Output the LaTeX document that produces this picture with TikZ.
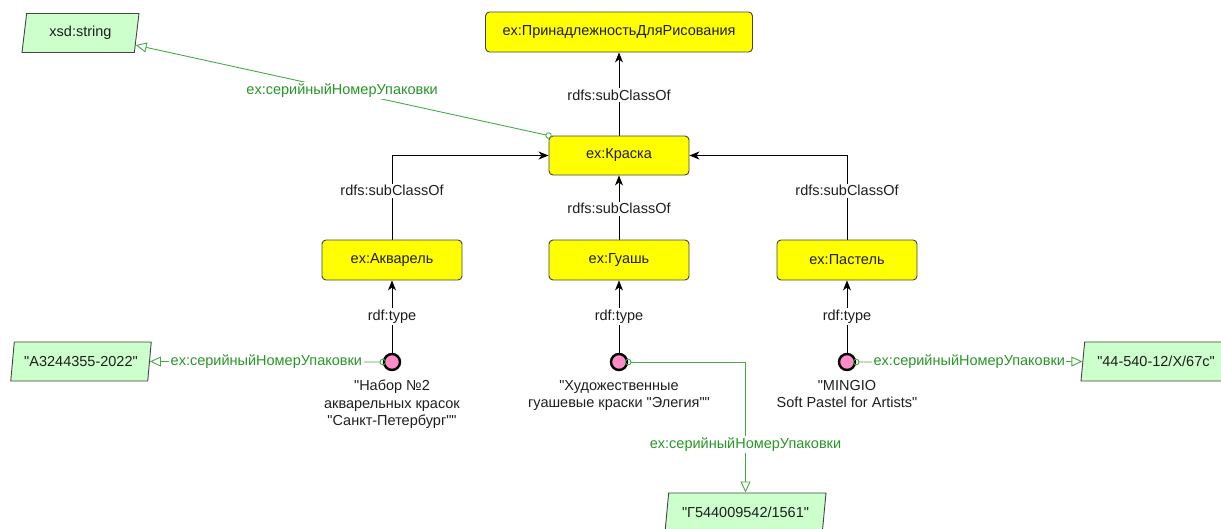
\documentclass[tikz,border=0pt]{standalone}
\usepackage{fontspec}
\setmainfont{Liberation Sans}[Ligatures=TeXOff]
\usetikzlibrary{arrows.meta,shapes.geometric}

\definecolor{classfill}{RGB}{255,255,0}
\definecolor{litfill}{RGB}{204,255,204}
\definecolor{instfill}{RGB}{255,140,200}
\definecolor{propgreen}{RGB}{40,150,40}
\definecolor{propline}{RGB}{70,170,70}
\definecolor{edgegray}{RGB}{68,68,68}
\definecolor{txt}{RGB}{30,30,30}

\begin{document}
\begin{tikzpicture}[x=1pt,y=-1pt,
  every node/.style={font=\fontsize{14.5}{17.5}\selectfont, text=txt},
  classbox/.style={draw=edgegray, line width=0.9pt, fill=classfill, rounded corners=4pt,
    minimum height=40pt, minimum width=140pt, inner sep=0pt},
  literal/.style={trapezium, trapezium left angle=71, trapezium right angle=109,
    trapezium stretches body, draw=edgegray, line width=0.9pt, fill=litfill,
    minimum height=39pt, inner xsep=2pt, inner ysep=0pt},
  inst/.style={circle, draw=black, line width=2.4pt, fill=instfill, minimum size=16pt, inner sep=0pt},
  isa/.style={draw=black, line width=0.9pt, -{Stealth[length=10pt,width=8pt,inset=3pt]}},
  lbl/.style={fill=white, inner sep=1.5pt},
  prop/.style={draw=propline, line width=0.9pt,
    {Circle[open,length=6.5pt,width=6.5pt]}-{Triangle[open,length=11pt,width=10pt]},
    shorten <=-3.25pt},
  plbl/.style={fill=white, inner sep=1.5pt, text=propgreen},
  caption/.style={align=center, inner sep=0pt, anchor=north}
]
\clip (0,0) rectangle (1221,528);

% classes
\node[classbox, minimum width=267pt] (drawing) at (619,32) {ex:ПринадлежностьДляРисования};
\node[classbox, minimum height=39pt] (paint) at (619,155.5) {ex:Краска};
\node[classbox] (watercolor) at (392,260) {ex:Акварель};
\node[classbox] (gouache) at (619,260) {ex:Гуашь};
\node[classbox] (pastel) at (847,260) {ex:Пастель};

% literals
\node[literal, minimum width=117pt] (xsd) at (80.5,33) {xsd:string};
\node[literal, minimum width=140.5pt] (lit1) at (81,361.5) {"A3244355-2022"};
\node[literal, minimum width=161pt] (lit2) at (745.5,512.5) {"Г544009542/1561"};
\node[literal, minimum width=150pt] (lit3) at (1156,361.5) {"44-540-12/X/67c"};

% individuals
\node[inst] (set) at (392,362) {};
\node[inst] (gpaint) at (619,362) {};
\node[inst] (mingio) at (847,362) {};

\node[caption] (setcap) at (392,380) {"Набор №2\\акварельных красок\\"Санкт-Петербург""};
\node[caption] (gpaintcap) at (619,380) {"Художественные\\гуашевые краски "Элегия""};
\node[caption] (mingiocap) at (847,380) {"MINGIO\\Soft Pastel for Artists"};

% subclass hierarchy
\draw[isa] (paint) -- node[lbl, pos=0.49] {rdfs:subClassOf} (drawing);
\draw[isa] (watercolor.north) |- node[lbl, pos=0.29] {rdfs:subClassOf} (paint.west);
\draw[isa] (pastel.north) |- node[lbl, pos=0.29] {rdfs:subClassOf} (paint.east);
\draw[isa] (gouache) -- node[lbl, pos=0.48] {rdfs:subClassOf} (paint);

% typing
\draw[isa] (set) -- node[lbl] {rdf:type} (watercolor);
\draw[isa] (gpaint) -- node[lbl] {rdf:type} (gouache);
\draw[isa] (mingio) -- node[lbl] {rdf:type} (pastel);

% serial number property
\draw[prop] (paint.north west) -- node[plbl] {ex:серийныйНомерУпаковки} (xsd);
\draw[prop] (set.west) -- node[plbl] {ex:серийныйНомерУпаковки} (lit1.east);
\draw[prop] (mingio.east) -- node[plbl] {ex:серийныйНомерУпаковки} (lit3.west);
\draw[prop] (gpaint.east) -| node[plbl, pos=0.815] {ex:серийныйНомерУпаковки} (lit2.north);
\end{tikzpicture}
\end{document}
